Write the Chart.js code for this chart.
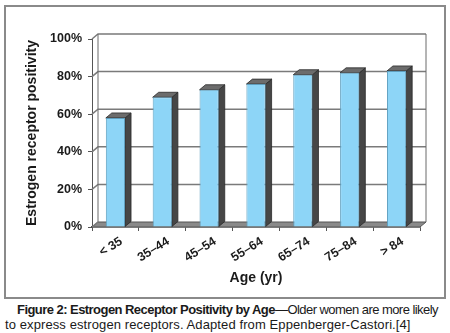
<!DOCTYPE html>
<html>
<head>
<meta charset="utf-8">
<script src="https://cdn.jsdelivr.net/npm/chart.js@4/dist/chart.umd.min.js"></script>
<style>
  html, body { margin: 0; padding: 0; background: #fff; }
  body { width: 450px; height: 333px; position: relative; overflow: hidden; font-family: "Liberation Sans", Arial, sans-serif; }
  #frame { position: absolute; left: 4px; top: 5px; width: 438px; height: 290px; border: 2px solid #8a8a8a; }
  #wrap { position: absolute; left: 0; top: 0; width: 450px; height: 300px; }
  .cap { position: absolute; font-size: 13px; color: #1a1a1a; white-space: nowrap; }
  #cap1 { left: 17px; top: 302px; letter-spacing: -0.55px; }
  #cap2 { left: 5px; top: 317px; letter-spacing: 0.1px; }
</style>
</head>
<body>
<div id="frame"></div>
<div id="wrap"><canvas id="chart"></canvas></div>
<div class="cap" id="cap1"><b>Figure 2: Estrogen Receptor Positivity by Age</b>—Older women are more likely</div>
<div class="cap" id="cap2">to express estrogen receptors. Adapted from Eppenberger-Castori.[4]</div>
<script>
// Age groups and share of estrogen-receptor-positive tumours (%)
const ageGroups = ['< 35', '35–44', '45–54', '55–64', '65–74', '75–84', '> 84'];
const erPositive = [58, 69, 73, 76, 81, 82, 83];
const yTickValues = [0, 20, 40, 60, 80, 100];

// depth of the pseudo-3D box (px to the right, px upward)
const DX = 6, DY = 5;
const FONT = '"Liberation Sans", Arial, sans-serif';

const box3d = {
  id: 'box3d',
  beforeDatasetsDraw(chart) {
    const { ctx, chartArea: a, scales: { y } } = chart;
    ctx.save();
    // floor
    ctx.fillStyle = '#8a8a8a';
    ctx.strokeStyle = '#555';
    ctx.lineWidth = 1;
    ctx.beginPath();
    ctx.moveTo(a.left, a.bottom);
    ctx.lineTo(a.right, a.bottom);
    ctx.lineTo(a.right + DX, a.bottom - DY);
    ctx.lineTo(a.left + DX, a.bottom - DY);
    ctx.closePath();
    ctx.fill();
    ctx.stroke();
    // grid lines on left wall and back wall
    ctx.strokeStyle = '#7a7a7a';
    ctx.lineWidth = 1.5;
    y.ticks.forEach(t => {
      const py = y.getPixelForValue(t.value);
      ctx.beginPath();
      ctx.moveTo(a.left, py);
      ctx.lineTo(a.left + DX, py - DY);
      if (t.value > 0) ctx.lineTo(a.right + DX, py - DY);
      ctx.stroke();
    });
    // back wall edges
    ctx.lineWidth = 1;
    ctx.strokeStyle = '#6a6a6a';
    ctx.beginPath();
    ctx.moveTo(a.left + DX, a.top - DY);
    ctx.lineTo(a.left + DX, a.bottom - DY);
    ctx.moveTo(a.right + DX, a.top - DY);
    ctx.lineTo(a.right + DX, a.bottom - DY);
    ctx.stroke();
    // side and top faces of each bar
    const meta = chart.getDatasetMeta(0);
    meta.data.forEach(bar => {
      const p = bar.getProps(['x', 'y', 'base', 'width'], true);
      const l = p.x - p.width / 2, r = p.x + p.width / 2;
      ctx.strokeStyle = '#2a2a2a';
      ctx.lineWidth = 0.8;
      ctx.fillStyle = '#464646';
      ctx.beginPath();
      ctx.moveTo(r, p.y);
      ctx.lineTo(r + DX, p.y - DY);
      ctx.lineTo(r + DX, p.base - DY);
      ctx.lineTo(r, p.base);
      ctx.closePath();
      ctx.fill();
      ctx.stroke();
      ctx.fillStyle = '#6c6c6c';
      ctx.beginPath();
      ctx.moveTo(l, p.y);
      ctx.lineTo(l + DX, p.y - DY);
      ctx.lineTo(r + DX, p.y - DY);
      ctx.lineTo(r, p.y);
      ctx.closePath();
      ctx.fill();
      ctx.stroke();
    });
    ctx.restore();
  }
};

new Chart(document.getElementById('chart'), {
  type: 'bar',
  data: {
    labels: ageGroups,
    datasets: [{
      data: erPositive,
      backgroundColor: '#8dd5f7',
      borderColor: '#5f9fbf',
      borderWidth: 1,
      barPercentage: 0.41,
      categoryPercentage: 1
    }]
  },
  plugins: [box3d],
  options: {
    responsive: true,
    maintainAspectRatio: false,
    animation: false,
    events: [],
    layout: { padding: { left: 0, top: 39, right: 30, bottom: 0 } },
    plugins: { legend: { display: false }, tooltip: { enabled: false } },
    scales: {
      x: {
        grid: { drawOnChartArea: false, drawTicks: true, tickLength: 4, color: '#555', offset: true },
        border: { display: true, color: '#444', width: 1.5 },
        ticks: {
          color: '#1a1a1a',
          font: { family: FONT, size: 12.5, weight: 'bold' },
          minRotation: 32, maxRotation: 32,
          padding: 3,
          labelOffset: 6
        },
        title: {
          display: true,
          text: 'Age (yr)',
          color: '#1a1a1a',
          font: { family: FONT, size: 14, weight: 'bold' },
          padding: { top: 0, bottom: 13 }
        },
        afterFit(scale) { scale.height = 73; }
      },
      y: {
        min: 0, max: 100,
        afterBuildTicks(scale) { scale.ticks = yTickValues.map(v => ({ value: v })); },
        grid: { drawOnChartArea: false, drawTicks: true, tickLength: 4, color: '#555' },
        border: { display: true, color: '#555', width: 1 },
        ticks: {
          color: '#1a1a1a',
          font: { family: FONT, size: 12.5, weight: 'bold' },
          padding: 6,
          callback: v => v + '%'
        },
        title: {
          display: true,
          text: 'Estrogen receptor positivity',
          color: '#1a1a1a',
          font: { family: FONT, size: 14, weight: 'bold' },
          padding: { top: 24, bottom: 0 }
        },
        afterFit(scale) { scale.width = 92; }
      }
    }
  }
});
</script>
</body>
</html>
